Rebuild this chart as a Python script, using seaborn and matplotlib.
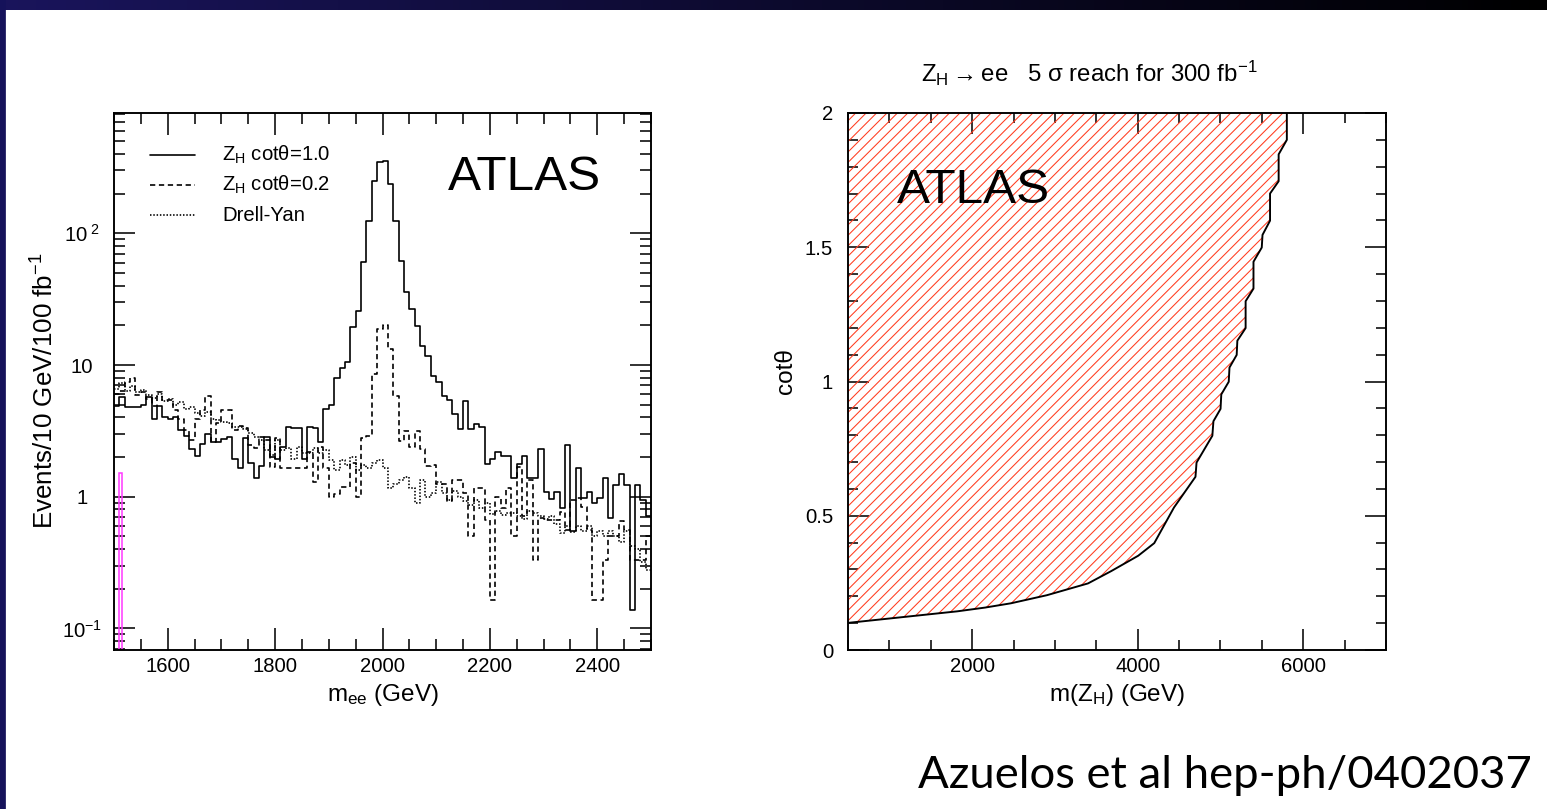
import numpy as np
import pandas as pd
import matplotlib
matplotlib.use("Agg")
import matplotlib.pyplot as plt
import seaborn as sns
from matplotlib.lines import Line2D
from matplotlib.patches import Rectangle
from matplotlib.ticker import FixedLocator, FixedFormatter, MultipleLocator, LogLocator, NullFormatter

# ---------------- data ----------------
mee_low, mee_high, mee_bin = 1500, 2500, 10     # 10 GeV bins

zh_cot10 = [4.9, 5.7, 4.8, 4.8, 4.8, 5.0, 5.7, 3.9, 4.9, 4.0, 3.9, 4.0, 3.2, 2.9, 2.3, 2.05, 2.5, 3.0, 2.6, 2.6,
            2.75, 2.85, 1.93, 1.64, 2.8, 1.79, 1.38, 1.72, 2.85, 2.02, 1.94, 2.4, 3.4, 3.3, 3.3, 1.93, 3.4, 3.3, 2.62, 4.6,
            5.0, 7.9, 9.5, 10.6, 19.5, 25.5, 61, 124, 250, 350, 356, 236, 125, 62, 36, 26.4, 19.9, 14.0, 11.7, 8.3,
            7.4, 5.85, 5.4, 4.23, 3.25, 5.35, 3.25, 3.54, 3.4, 1.77, 1.94, 2.18, 2.05, 2.05, 1.38, 1.77, 2.04, 1.38, 1.38, 2.32,
            1.08, 0.96, 1.09, 0.82, 2.47, 0.55, 1.64, 0.97, 1.09, 0.9, 0.97, 1.39, 0.69, 1.23, 1.50, 1.23, 0.138, 1.23, 0.95, 0.72]

zh_cot02 = [6.0, 6.4, 7.4, 7.9, 5.9, 6.2, 5.5, 4.9, 6.2, 5.4, 5.4, 4.55, 3.9, 3.2, 2.7, 3.9, 4.55, 5.8, 2.6, 3.6,
            4.55, 4.55, 3.2, 3.46, 3.3, 2.47, 2.33, 2.86, 2.7, 1.69, 2.77, 1.64, 1.64, 1.64, 1.64, 1.64, 2.2, 1.3, 2.4, 1.64,
            1.0, 1.05, 1.18, 1.18, 1.8, 1.0, 2.8, 2.9, 8.6, 18.7, 20.1, 13.2, 5.8, 2.65, 3.15, 2.4, 3.15, 2.3, 1.7, 1.75,
            1.26, 1.26, 0.92, 1.34, 1.34, 1.06, 0.50, 1.16, 1.16, 0.67, 0.165, 1.0, 0.82, 1.16, 0.50, 1.69, 0.71, 1.34, 0.33, 0.685,
            0.67, 0.67, 0.67, 0.77, 0.56, 0.94, 0.97, 0.84, 0.56, 0.165, 0.165, 0.33, 0.50, 0.5, 0.65, 0.56, 0.33, 0.33, 0.33, 0.5]

drell_yan = [6.6, 7.3, 6.3, 6.9, 6.2, 6.5, 5.9, 5.6, 6.0, 5.3, 5.5, 5.0, 5.2, 4.6, 4.8, 4.3, 4.1, 4.4, 3.9, 3.8,
             3.7, 3.6, 3.36, 3.4, 3.24, 3.03, 2.85, 2.69, 2.26, 2.07, 2.69, 2.26, 2.33, 1.95, 2.4, 2.13, 2.13, 2.33, 2.13, 2.26,
             1.90, 1.60, 1.90, 1.74, 2.01, 1.60, 1.74, 1.64, 1.79, 1.90, 1.64, 1.16, 1.26, 1.34, 1.42, 1.16, 0.89, 1.34, 1.0, 1.06,
             1.3, 1.06, 0.94, 1.1, 1.0, 0.92, 0.86, 0.94, 0.82, 0.9, 0.74, 0.78, 0.73, 0.75, 0.75, 0.72, 0.68, 0.78, 0.75, 0.72,
             0.68, 0.72, 0.62, 0.53, 0.6, 0.54, 0.6, 0.55, 0.6, 0.5, 0.55, 0.5, 0.55, 0.5, 0.45, 0.55, 0.42, 0.4, 0.32, 0.28]

marker_mass = [1512.5]     # small magenta box at the left edge
marker_height = [1.5]

legend_labels = ["Z$_{H}$ cotθ=1.0", "Z$_{H}$ cotθ=0.2", "Drell-Yan"]

reach_mass = [500, 1820, 2156, 2469, 2902, 3400, 3681, 4006, 4200, 4439, 4698, 4711, 4902, 4915, 5001, 5010,
              5100, 5109, 5196, 5204, 5304, 5304, 5399, 5399, 5499, 5508, 5599, 5599, 5703, 5703, 5802, 5802]
reach_cot = [0.101, 0.144, 0.158, 0.174, 0.204, 0.248, 0.294, 0.351, 0.398, 0.531, 0.645, 0.698, 0.798, 0.852, 0.898, 0.952,
             0.999, 1.052, 1.099, 1.152, 1.199, 1.299, 1.346, 1.446, 1.499, 1.546, 1.599, 1.700, 1.746, 1.846, 1.900, 2.0]

left_ytick_vals = [0.1, 1, 10, 100]
left_ytick_text = ["$10^{-1}$", "1", "10", "$10^{\\ 2}$"]
right_ytick_vals = [0, 0.5, 1, 1.5, 2]
right_ytick_text = ["0", "0.5", "1", "1.5", "2"]

# ---------------- style ----------------
sns.set_style("ticks")
plt.rcParams.update({
    "font.family": ["Liberation Sans", "DejaVu Sans"],
    "mathtext.fontset": "custom",
    "mathtext.rm": "Liberation Sans",
    "mathtext.it": "Liberation Sans:italic",
    "mathtext.bf": "Liberation Sans:bold",
    "mathtext.sf": "Liberation Sans",
    "mathtext.default": "regular",
    "hatch.linewidth": 0.6,
    "axes.linewidth": 1.1,
    "axes.edgecolor": "black",
    "text.color": "black",
    "axes.labelcolor": "black",
    "xtick.color": "black",
    "ytick.color": "black",
})

W, H, DPI = 1547, 809, 125
fig = plt.figure(figsize=(W / DPI, H / DPI), dpi=DPI)
fig.patch.set_facecolor("white")

FS = 11.7      # tick labels / legend
LFS = 14.0     # axis titles

# slide decorations
bar_ax = fig.add_axes([0, 1 - 10 / H, 1, 10 / H])
grad = np.linspace(0, 1, 256)[None, :, None]
c0 = np.array([0.10, 0.08, 0.36])
c1 = np.array([0.0, 0.0, 0.0])
bar_ax.imshow(c0 * (1 - grad) + c1 * grad, aspect="auto", extent=[0, 1, 0, 1])
bar_ax.set_axis_off()
fig.add_artist(Rectangle((0, 0), 5 / W, 1, transform=fig.transFigure, color="#15125a", zorder=5))

# ---------------- left panel ----------------
axL = fig.add_axes([114 / W, 1 - 650 / H, 537 / W, 537 / H])
centers = np.arange(mee_low, mee_high, mee_bin) + mee_bin / 2
hist_df = pd.DataFrame({"mee": centers, "cot10": zh_cot10, "cot02": zh_cot02, "dy": drell_yan})
common = dict(x="mee", binwidth=mee_bin, binrange=(mee_low, mee_high), element="step",
              fill=False, color="black", linewidth=0.95, ax=axL)
sns.histplot(data=hist_df, weights="cot10", **common)
sns.histplot(data=hist_df, weights="cot02", linestyle=(0, (3.2, 2.2)), **common)
sns.histplot(data=hist_df, weights="dy", linestyle=(0, (0.9, 1.1)), **common)
axL.bar(marker_mass, marker_height, width=6.5, bottom=1e-3, fill=False,
        edgecolor="#ff3cff", linewidth=0.9)

axL.set_yscale("log")
axL.set_xlim(mee_low, mee_high)
axL.set_ylim(0.0686, 819)
axL.xaxis.set_major_locator(MultipleLocator(200))
axL.xaxis.set_minor_locator(MultipleLocator(50))
axL.yaxis.set_major_locator(FixedLocator(left_ytick_vals))
axL.yaxis.set_major_formatter(FixedFormatter(left_ytick_text))
axL.yaxis.set_minor_locator(LogLocator(base=10, subs=np.arange(2, 10)))
axL.yaxis.set_minor_formatter(NullFormatter())
axL.tick_params(which="both", direction="in", top=True, right=True, width=0.9, labelsize=FS)
axL.tick_params(axis="x", which="major", length=12.5, pad=4)
axL.tick_params(axis="x", which="minor", length=6.3)
axL.tick_params(axis="y", which="major", length=12, pad=18.5)
axL.tick_params(axis="y", which="minor", length=6.3)
for lbl in axL.get_yticklabels():
    lbl.set_horizontalalignment("center")
axL.set_xlabel("m$_{ee}$ (GeV)", fontsize=LFS)
axL.set_ylabel("Events/10 GeV/100 fb$^{-1}$", fontsize=15)
axL.xaxis.set_label_coords(0.50, -0.060)
axL.yaxis.set_label_coords(-0.103, 0.482)

# legend (drawn by hand to mimic ROOT layout)
styles = ["-", (0, (3.2, 2.2)), (0, (0.9, 1.1))]
rows = [0.922, 0.866, 0.810]
for lab, ls, yy in zip(legend_labels, styles, rows):
    axL.add_line(Line2D([0.067, 0.151], [yy, yy], transform=axL.transAxes, color="black",
                        linewidth=0.95, linestyle=ls))
    axL.text(0.201, yy, lab, transform=axL.transAxes, fontsize=FS, va="center", ha="left")
axL.text(0.622, 0.857, "ATLAS", transform=axL.transAxes, fontsize=28.5, va="baseline", ha="left")

# ---------------- right panel ----------------
axR = fig.add_axes([848 / W, 1 - 650 / H, 538 / W, 537 / H])
axR.fill(list(reach_mass) + [reach_mass[0]], list(reach_cot) + [reach_cot[-1]],
         facecolor="none", edgecolor="#ff3b1f", hatch="////", linewidth=0)
sns.lineplot(x=reach_mass, y=reach_cot, sort=False, estimator=None, color="black",
             linewidth=1.1, ax=axR)
axR.set_xlim(500, 7000)
axR.set_ylim(0, 2)
axR.xaxis.set_major_locator(MultipleLocator(2000))
axR.xaxis.set_minor_locator(MultipleLocator(500))
axR.yaxis.set_major_locator(FixedLocator(right_ytick_vals))
axR.yaxis.set_major_formatter(FixedFormatter(right_ytick_text))
axR.yaxis.set_minor_locator(MultipleLocator(0.1))
axR.tick_params(which="both", direction="in", top=True, right=True, width=0.9, labelsize=FS)
axR.tick_params(which="major", length=12)
axR.tick_params(which="minor", length=6)
axR.tick_params(axis="x", which="major", pad=4)
axR.tick_params(axis="y", which="major", pad=8.5)
axR.set_xlabel("m(Z$_{H}$) (GeV)", fontsize=LFS)
axR.set_ylabel("cotθ", fontsize=LFS)
axR.xaxis.set_label_coords(0.50, -0.060)
axR.yaxis.set_label_coords(-0.094, 0.52)
axR.text(0.091, 0.832, "ATLAS", transform=axR.transAxes, fontsize=28.5, va="baseline", ha="left")

fig.text(921 / W, 1 - 82 / H, "Z$_{H}$$\\rightarrow$ee   5 σ reach for 300 fb$^{-1}$", fontsize=13.8,
         ha="left", va="baseline")
fig.text(918 / W, 1 - 788 / H, "Azuelos et al hep-ph/0402037", fontsize=26.2,
         family=["Lato", "DejaVu Sans"], ha="left", va="baseline")

fig.savefig("out.png", dpi=DPI)
